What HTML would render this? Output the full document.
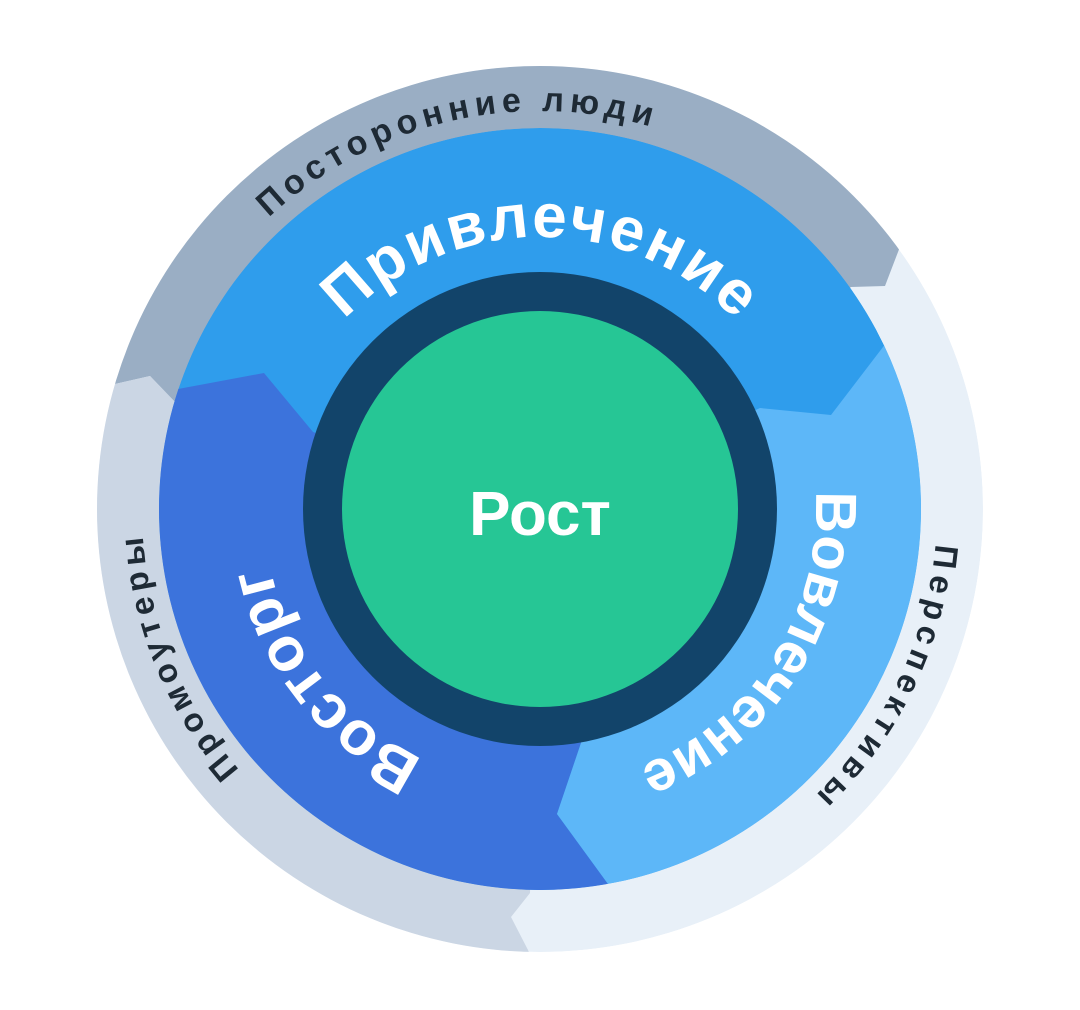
<!DOCTYPE html>
<html><head><meta charset="utf-8"><style>
html,body{margin:0;padding:0;background:#fff;width:1080px;height:1010px;overflow:hidden}
svg{display:block}
text{font-family:"Liberation Sans",sans-serif;font-weight:bold}
</style></head><body>
<svg width="1080" height="1010" viewBox="0 0 1080 1010" xmlns="http://www.w3.org/2000/svg">
<defs>
<clipPath id="co"><circle cx="540" cy="509" r="443"/></clipPath>
<clipPath id="cm"><circle cx="540" cy="509" r="381"/></clipPath>
<path id="p398" d="M540,907 A398,398 0 1 1 540,111 A398,398 0 1 1 540,907"/>
<path id="p397" d="M540,906 A397,397 0 1 1 540,112 A397,397 0 1 1 540,906"/>
<path id="p272" d="M540,781 A272,272 0 1 1 540,237 A272,272 0 1 1 540,781"/>
<path id="p276" d="M540,785 A276,276 0 1 1 540,233 A276,276 0 1 1 540,785"/>
</defs>
<g clip-path="url(#co)">
<circle cx="540" cy="509" r="443" fill="#e8f0f8"/>
<polygon fill="#9aaec4" points="540,509 851,287 885,286 898,252 930,170 930,0 0,0 0,397 60,397 115,384 150,376 175,402"/>
<polygon fill="#cbd6e4" points="540,509 175,402 150,376 115,384 0,410 0,1010 545,1010 545,990 528,950 511,917 530,893"/>
</g>
<g clip-path="url(#cm)">
<circle cx="540" cy="509" r="381" fill="#2f9dec"/>
<polygon fill="#3c73dc" points="540,509 313,432 264,373 178,389 0,420 0,1010 650,1010 640,928 608,884 557,814 582,740"/>
<polygon fill="#5db7f8" points="540,509 582,740 557,814 608,884 640,928 650,1010 1080,1010 1080,290 920,299 883,347 831,415 760,408"/>
</g>
<circle cx="540" cy="509" r="237" fill="#12446a"/>
<circle cx="540" cy="509" r="198" fill="#26c695"/>
<text x="540" y="535" text-anchor="middle" font-size="62" fill="#fff">Рост</text>

<text font-size="34" fill="#1e2a35" text-anchor="middle"><textPath href="#p398" startOffset="1156.6" textLength="410" lengthAdjust="spacing">Посторонние люди</textPath></text>
<text font-size="33" fill="#1e2a35" text-anchor="middle"><textPath href="#p397" startOffset="2047.5" textLength="284" lengthAdjust="spacing">Перспективы</textPath></text>
<text font-size="33" fill="#1e2a35" text-anchor="middle"><textPath href="#p398" startOffset="468.9" textLength="257" lengthAdjust="spacing">Промоутеры</textPath></text>

<text font-size="62" fill="#fff" text-anchor="middle"><textPath href="#p272" startOffset="854.5" textLength="437" lengthAdjust="spacing">Привлечение</textPath></text>
<text font-size="58" fill="#fff" text-anchor="middle"><textPath href="#p276" startOffset="1457.3" textLength="350" lengthAdjust="spacing">Вовлечение</textPath></text>
<text font-size="62" fill="#fff" text-anchor="middle"><textPath href="#p276" startOffset="248.1" textLength="255" lengthAdjust="spacing">Восторг</textPath></text>
</svg>
</body></html>
